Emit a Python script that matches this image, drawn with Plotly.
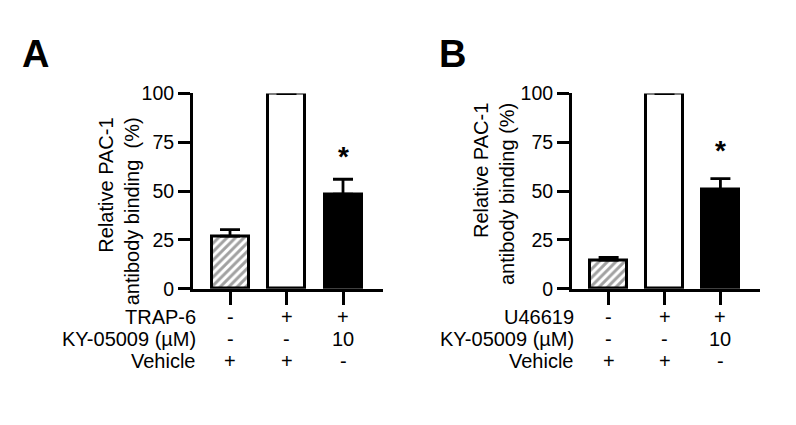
import plotly.graph_objects as go

W, H = 796, 425
FONT = "Liberation Sans, Arial, sans-serif"

# ---- data ----
groups = [0, 1, 2]
a_values = [27.0, 100, 48.5]
a_err = [3.3, 0, 7.6]
b_values = [14.7, 100, 50.8]
b_err = [1.4, 0, 5.6]
y_ticks = [0, 25, 50, 75, 100]
a_agonist = "TRAP-6"
b_agonist = "U46619"
agonist_row = ["-", "+", "+"]
ky_row = ["-", "-", "10"]
vehicle_row = ["+", "+", "-"]
ky_label = "KY-05009 (µM)"
vehicle_label = "Vehicle"
sig_marks = ["", "", "*"]
a_star_y = [None, None, 68]
b_star_y = [None, None, 71]

fills = ["white", "white", "black"]
patterns = ["/", "", ""]


def px_x(x):
    return x / W


def px_y(y):
    return (H - y) / H


fig = go.Figure()

panels = [
    dict(xa="x", ya="y", vals=a_values, err=a_err, agon=a_agonist, star=a_star_y,
         label="A", lx=20, ytitle="Relative PAC-1<br>antibody binding\u00a0\u00a0(%)",
         tx=119, ty=110, rowx=198),
    dict(xa="x2", ya="y2", vals=b_values, err=b_err, agon=b_agonist, star=b_star_y,
         label="B", lx=437, ytitle="Relative PAC-1<br>antibody binding (%)",
         tx=494, ty=95, rowx=576),
]

annotations = []
for p in panels:
    fig.add_trace(go.Bar(
        x=groups, y=p["vals"], xaxis=p["xa"], yaxis=p["ya"],
        width=0.655,
        marker=dict(color=fills, line=dict(color="black", width=3),
                    pattern=dict(shape=patterns, fgcolor="black", bgcolor="white",
                                 size=6, solidity=0.5)),
        error_y=dict(type="data", array=p["err"], arrayminus=[0, 0, 0], symmetric=False,
                     color="black", thickness=2.8, width=10),
        showlegend=False,
    ))
    for g, s, sy in zip(groups, sig_marks, p["star"]):
        if s:
            annotations.append(dict(x=g, y=sy, xref=p["xa"], yref=p["ya"], text="<b>*</b>",
                                    showarrow=False, font=dict(size=28, family=FONT, color="black")))
    rows = [(p["agon"], agonist_row, 322.5), (ky_label, ky_row, 346), (vehicle_label, vehicle_row, 369.5)]
    for lab, vals, yy in rows:
        annotations.append(dict(x=px_x(p["rowx"]), y=px_y(yy), xref="paper", yref="paper", text=lab,
                                xanchor="right", yanchor="middle", showarrow=False,
                                font=dict(size=20, family=FONT, color="black")))
        for g, v in zip(groups, vals):
            annotations.append(dict(x=g, y=px_y(yy), xref=p["xa"], yref="paper", text=v,
                                    xanchor="center", yanchor="middle", showarrow=False,
                                    font=dict(size=20, family=FONT, color="black")))
    annotations.append(dict(x=px_x(p["tx"]), y=px_y(p["ty"]), xref="paper", yref="paper", text=p["ytitle"],
                            textangle=-90, xanchor="center", yanchor="top", align="right", showarrow=False,
                            font=dict(size=20, family=FONT, color="black")))
    annotations.append(dict(x=px_x(p["lx"]), y=px_y(45), xref="paper", yref="paper",
                            text="<b>" + p["label"] + "</b>", xanchor="left", yanchor="middle",
                            showarrow=False, font=dict(size=38, family=FONT, color="black")))

xcommon = dict(range=[-0.655, 2.708], tickvals=groups, showticklabels=False, ticks="outside",
               ticklen=13, tickwidth=3, tickcolor="black", showline=True, linewidth=3,
               linecolor="black", showgrid=False, zeroline=False, fixedrange=True)
ycommon = dict(range=[0, 100], tickvals=y_ticks, ticks="outside", ticklen=12, tickwidth=3,
               tickcolor="black", showline=True, linewidth=3, linecolor="black", showgrid=False,
               zeroline=False, tickfont=dict(size=19.5, family=FONT, color="black"), fixedrange=True)

ydom = [px_y(293), px_y(87)]
fig.update_layout(
    width=W, height=H, margin=dict(l=0, r=0, t=0, b=0),
    paper_bgcolor="white", plot_bgcolor="white",
    font=dict(family=FONT, color="black"),
    xaxis=dict(domain=[px_x(193), px_x(383)], anchor="y", **xcommon),
    yaxis=dict(domain=ydom, anchor="x", **ycommon),
    xaxis2=dict(domain=[px_x(572), px_x(760)], anchor="y2", **xcommon),
    yaxis2=dict(domain=ydom, anchor="x2", **ycommon),
    annotations=annotations,
    bargap=0,
)

fig.write_html("out.html")
